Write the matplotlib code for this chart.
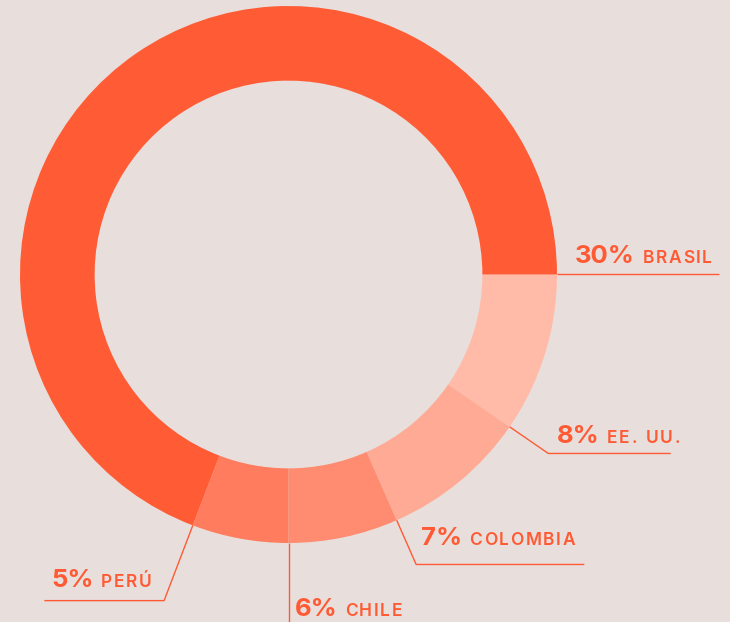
import numpy as np
import matplotlib.pyplot as plt

# datos (orden de las porciones, en sentido horario desde las 3 en punto)
paises = ['EE. UU.', 'COLOMBIA', 'CHILE', 'PERÚ', 'BRASIL']
porcentajes = [8, 7, 6, 5, 30]
partes_anillo = [9.6, 8.8, 6.6, 5.8, 69.2]   # proporción visible del anillo
colores = ['#FFBBA8', '#FFAA94', '#FF8C70', '#FF7D5E', '#FF5C35']

fondo = '#E8DFDD'
naranja = '#FF5A33'

# disposición de las etiquetas (unidades de datos, radio = 1)
radio_codo = [1.175, 1.18, 1.32, 1.30, 1.0]
fin_linea = [1.4235, 1.1017, None, -0.9095, 1.603]
pos_texto = [(0.999, -0.629), (0.492, -1.007), (0.022, -1.272),
             (-0.8845, -1.163), (1.067, 0.042)]

fig = plt.figure(figsize=(7.3, 6.22), dpi=100, facecolor=fondo)
ax = fig.add_axes([0, 0, 1, 1])
ax.set_facecolor(fondo)

ax.pie(partes_anillo, colors=colores, startangle=0, counterclock=False,
       radius=1, wedgeprops=dict(width=0.278, linewidth=0))

ax.set_xlim(-1.0745, 1.6443)
ax.set_ylim(-1.2942, 1.0223)
ax.set_aspect('equal')
ax.axis('off')

# líneas guía desde el borde final de cada porción
fin = np.cumsum(partes_anillo) / np.sum(partes_anillo) * 360
for i in range(len(paises)):
    ang = np.deg2rad(-fin[i])
    x0, y0 = np.cos(ang), np.sin(ang)
    xc, yc = radio_codo[i] * np.cos(ang), radio_codo[i] * np.sin(ang)
    xe = fin_linea[i] if fin_linea[i] is not None else xc
    ax.plot([x0, xc, xe], [y0, yc, yc], color=naranja, lw=1.0,
            solid_capstyle='butt', clip_on=False)

fig.canvas.draw()
r = fig.canvas.get_renderer()
inv = ax.transData.inverted()
espaciado = 1.7  # px entre letras


def a_datos(xpix):
    return inv.transform((xpix, 0))[0]


for i in range(len(paises)):
    tx, ty = pos_texto[i]
    t = ax.text(tx, ty, f'{porcentajes[i]}%', fontsize=18.5, fontweight='bold',
                family='Inter', color=naranja, va='baseline', ha='left')
    xpix = t.get_window_extent(r).x1 + 7.5
    for ch in paises[i]:
        c = ax.text(a_datos(xpix), ty, ch, fontsize=12.5, fontweight='semibold',
                    family='Inter', color=naranja, va='baseline', ha='left')
        if ch == ' ':
            xpix += 7
        else:
            xpix = c.get_window_extent(r).x1 + espaciado

fig.savefig('out.png', dpi=100, facecolor=fondo)
